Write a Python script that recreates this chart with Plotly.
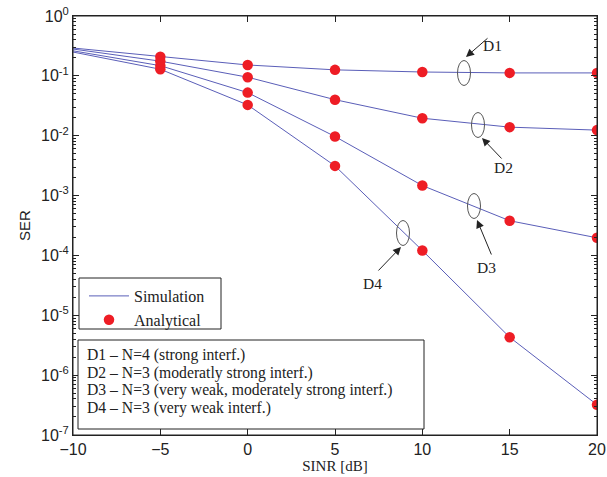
import plotly.graph_objects as go

# ---- data ----
sinr_sim = [-10, -5, 0, 5, 10, 15, 20]
sinr_ana = [-5, 0, 5, 10, 15, 20]

sim_D1 = [0.292, 0.209, 0.152, 0.126, 0.116, 0.112, 0.112]
sim_D2 = [0.281, 0.176, 0.095, 0.040, 0.0196, 0.0139, 0.0124]
sim_D3 = [0.262, 0.148, 0.0525, 0.0097, 0.00147, 0.00038, 0.000197]
sim_D4 = [0.250, 0.129, 0.0327, 0.00313, 0.000121, 4.3e-6, 3.2e-7]

ana_D1 = [0.209, 0.152, 0.126, 0.116, 0.112, 0.112]
ana_D2 = [0.176, 0.095, 0.040, 0.0196, 0.0139, 0.0124]
ana_D3 = [0.148, 0.0525, 0.0097, 0.00147, 0.00038, 0.000197]
ana_D4 = [0.129, 0.0327, 0.00313, 0.000121, 4.3e-6, 3.2e-7]

x_ticks = [-10, -5, 0, 5, 10, 15, 20]
x_ticktext = ["\u221210", "\u22125", "0", "5", "10", "15", "20"]
y_exps = [0, -1, -2, -3, -4, -5, -6, -7]

legend_lines = [
    "D1 \u2013 N=4 (strong interf.)",
    "D2 \u2013 N=3 (moderatly strong interf.)",
    "D3 \u2013 N=3 (very weak, moderately strong interf.)",
    "D4 \u2013 N=3 (very weak interf.)",
]

LINE_C = "#5a5eb8"
MARK_C = "#ee1d25"
SERIF = "Liberation Serif, Times New Roman, serif"
SANS = "Liberation Sans, Arial, sans-serif"

fig = go.Figure()
for i, s in enumerate([sim_D1, sim_D2, sim_D3, sim_D4]):
    fig.add_trace(go.Scatter(x=sinr_sim, y=s, mode="lines",
                             line=dict(color=LINE_C, width=1),
                             name="Simulation", showlegend=(i == 0)))
for i, a in enumerate([ana_D1, ana_D2, ana_D3, ana_D4]):
    fig.add_trace(go.Scatter(x=sinr_ana, y=a, mode="markers",
                             marker=dict(color=MARK_C, size=10.5),
                             name="Analytical", showlegend=(i == 0)))

W, H = 607, 477
L, R, T, B = 73, 597, 16, 435   # plot area in window pixels
def px(x):
    return (x - L) / (R - L)
def py(y):
    return (B - y) / (B - T)

minor_vals = [m * 10.0 ** e for e in range(-7, 0) for m in range(2, 10)]

fig.update_layout(
    width=W, height=H,
    margin=dict(l=L, r=W - R, t=T, b=H - B, autoexpand=False),
    paper_bgcolor="white", plot_bgcolor="white",
    showlegend=True,
    legend=dict(x=px(84), y=py(279), xanchor="left", yanchor="top",
                bgcolor="rgba(0,0,0,0)", borderwidth=0,
                font=dict(family=SERIF, size=16, color="#222"),
                itemwidth=40, tracegroupgap=0),
    xaxis=dict(range=[-10, 20], tickvals=x_ticks, ticktext=x_ticktext,
               ticks="inside", ticklen=6, tickcolor="#222",
               showline=True, linecolor="#222", linewidth=1, mirror="ticks",
               showgrid=False, zeroline=False, automargin=False,
               ticklabeloverflow="allow",
               tickfont=dict(family=SANS, size=16, color="#222"),
               title=dict(text="SINR [dB]", font=dict(family=SERIF, size=15, color="#222"),
                          standoff=2)),
    yaxis=dict(type="log", range=[-7, 0],
               tickvals=[10.0 ** e for e in y_exps],
               ticktext=["10<sup>%d</sup>" % e for e in y_exps],
               ticks="inside", ticklen=6, tickcolor="#222",
               showline=True, linecolor="#222", linewidth=1, mirror="ticks",
               showgrid=False, zeroline=False, automargin=False,
               ticklabeloverflow="allow",
               minor=dict(tickvals=minor_vals, ticks="inside", ticklen=3,
                          tickcolor="#222", showgrid=False),
               tickfont=dict(family=SANS, size=16, color="#222"),
               title=dict(text="SER", font=dict(family=SANS, size=15, color="#222"),
                          standoff=6)),
)

shapes = []
# frame around the plot area
shapes.append(dict(type="rect", xref="paper", yref="paper", x0=0, x1=1, y0=0, y1=1,
                   line=dict(color="#222", width=1), layer="above"))
# legend box 1 and box 2
shapes.append(dict(type="rect", xref="paper", yref="paper",
                   x0=px(79), x1=px(221), y0=py(329), y1=py(278),
                   line=dict(color="#222", width=1), fillcolor="white", layer="below"))
shapes.append(dict(type="rect", xref="paper", yref="paper",
                   x0=px(78), x1=px(424), y0=py(429), y1=py(340),
                   line=dict(color="#222", width=1), fillcolor="white", layer="above"))
# ellipses
for cx, cy in [(464, 73), (478, 125), (474, 206), (403, 233)]:
    shapes.append(dict(type="circle", xref="paper", yref="paper",
                       x0=px(cx - 6.5), x1=px(cx + 6.5), y0=py(cy + 12.5), y1=py(cy - 12.5),
                       line=dict(color="#555", width=1)))
fig.update_layout(shapes=shapes)

anns = []
for k, line in enumerate(legend_lines):
    anns.append(dict(xref="paper", yref="paper", x=px(85), y=py(355 + 17.7 * k),
                     xanchor="left", yanchor="middle", align="left", showarrow=False,
                     text=line, font=dict(family=SERIF, size=15.7, color="#222")))
# arrows: (head x, head y, tail x, tail y), labels
arrows = [(466, 57, 489, 37), (482, 138, 503, 160), (477, 220, 492, 256), (401, 247, 377, 272)]
labels = [("D1", 504, 35), ("D2", 515, 167), ("D3", 498, 267), ("D4", 372, 283)]
for hx, hy, tx, ty in arrows:
    anns.append(dict(xref="paper", yref="paper", x=px(hx), y=py(hy),
                     ax=tx - hx, ay=ty - hy, text="", showarrow=True,
                     arrowhead=2, arrowsize=1.6, arrowwidth=1, arrowcolor="#222"))
for t, lx, ly in labels:
    anns.append(dict(xref="paper", yref="paper", x=px(lx), y=py(ly), text=t,
                     showarrow=False, font=dict(family=SERIF, size=15.5, color="#222")))
fig.update_layout(annotations=anns)

fig.write_html("out.html",
               config={"displayModeBar": False},
               post_script="document.body.style.margin='0';document.body.style.overflow='hidden';")
